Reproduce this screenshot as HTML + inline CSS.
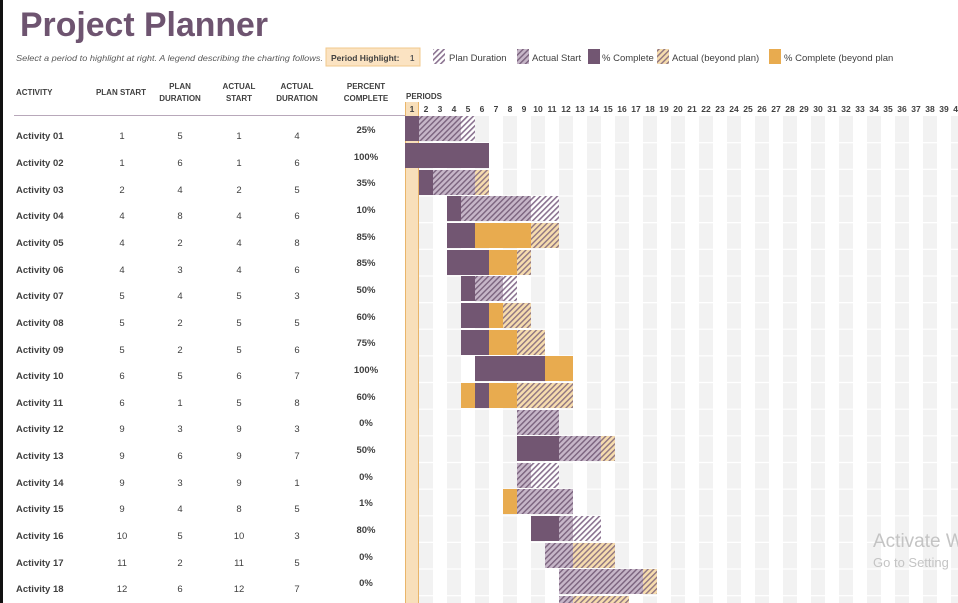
<!DOCTYPE html>
<html><head><meta charset="utf-8"><style>
html,body{margin:0;padding:0;background:#fff;width:958px;height:603px;overflow:hidden}
svg{display:block;font-family:"Liberation Sans",sans-serif}
</style></head><body>
<svg width="958" height="603" viewBox="0 0 958 603" xmlns="http://www.w3.org/2000/svg">
<defs>
<pattern id="cols" x="405" y="0" width="28" height="603" patternUnits="userSpaceOnUse">
<rect x="0" y="0" width="14" height="603" fill="#fff"/><rect x="14" y="0" width="14" height="603" fill="#f2f2f2"/>
</pattern>
<pattern id="hP" width="4" height="4" patternUnits="userSpaceOnUse" patternTransform="rotate(45)">
<rect width="4" height="4" fill="#fff"/><rect width="1.6" height="4" fill="#8a7290"/></pattern>
<pattern id="hA" width="4" height="4" patternUnits="userSpaceOnUse" patternTransform="rotate(45)">
<rect width="4" height="4" fill="#c6b6c8"/><rect width="1.4" height="4" fill="#7a627d"/></pattern>
<pattern id="hB" width="4" height="4" patternUnits="userSpaceOnUse" patternTransform="rotate(45)">
<rect width="4" height="4" fill="#f6dcae"/><rect width="1.4" height="4" fill="#8e7480"/></pattern>
</defs>
<rect x="0" y="0" width="3" height="603" fill="#111"/>
<text x="20" y="36" font-size="34" font-weight="bold" fill="#6e5470" textLength="248" lengthAdjust="spacingAndGlyphs">Project Planner</text>
<text x="16" y="61" font-size="8.5" font-style="italic" fill="#595959" textLength="307" lengthAdjust="spacingAndGlyphs">Select a period to highlight at right.  A legend describing the charting follows.</text>
<rect x="326" y="48" width="94" height="18" fill="#fbe3c2" stroke="#f1c88c" stroke-width="1"/>
<text x="331" y="61" font-size="8.5" font-weight="bold" fill="#404040">Period Highlight:</text>
<text x="410" y="61" font-size="8" font-weight="bold" fill="#595959">1</text>
<rect x="433" y="49" width="12" height="15" fill="url(#hP)"/><text x="449" y="61" font-size="9.5" fill="#404040">Plan Duration</text>
<rect x="517" y="49" width="12" height="15" fill="url(#hA)"/><text x="532" y="61" font-size="9.5" fill="#404040">Actual Start</text>
<rect x="588" y="49" width="12" height="15" fill="#725672"/><text x="602" y="61" font-size="9.5" fill="#404040">% Complete</text>
<rect x="657" y="49" width="12" height="15" fill="url(#hB)"/><text x="672" y="61" font-size="9.5" fill="#404040">Actual (beyond plan)</text>
<rect x="769" y="49" width="12" height="15" fill="#e8ab4f"/><text x="784" y="61" font-size="9.5" fill="#404040">% Complete (beyond plan</text>
<g font-size="8" font-weight="bold" fill="#404040" text-anchor="middle">
<text x="16" y="95" text-anchor="start">ACTIVITY</text>
<text x="121" y="95">PLAN START</text>
<text x="180" y="89">PLAN</text><text x="180" y="101">DURATION</text>
<text x="239" y="89">ACTUAL</text><text x="239" y="101">START</text>
<text x="297" y="89">ACTUAL</text><text x="297" y="101">DURATION</text>
<text x="366" y="89">PERCENT</text><text x="366" y="101">COMPLETE</text>
<text x="406" y="99" text-anchor="start">PERIODS</text>
</g>
<line x1="14" y1="115.5" x2="405" y2="115.5" stroke="#b8a8ba" stroke-width="1"/>
<rect x="405" y="116" width="553" height="487" fill="url(#cols)"/>
<g stroke="#fff" stroke-width="1.2">
<line x1="405" x2="958" y1="142.7" y2="142.7"/><line x1="405" x2="958" y1="169.3" y2="169.3"/><line x1="405" x2="958" y1="196" y2="196"/><line x1="405" x2="958" y1="222.6" y2="222.6"/><line x1="405" x2="958" y1="249.3" y2="249.3"/><line x1="405" x2="958" y1="276" y2="276"/><line x1="405" x2="958" y1="302.6" y2="302.6"/><line x1="405" x2="958" y1="329.2" y2="329.2"/><line x1="405" x2="958" y1="355.9" y2="355.9"/><line x1="405" x2="958" y1="382.5" y2="382.5"/><line x1="405" x2="958" y1="409.2" y2="409.2"/><line x1="405" x2="958" y1="435.8" y2="435.8"/><line x1="405" x2="958" y1="462.5" y2="462.5"/><line x1="405" x2="958" y1="489.1" y2="489.1"/><line x1="405" x2="958" y1="515.8" y2="515.8"/><line x1="405" x2="958" y1="542.4" y2="542.4"/><line x1="405" x2="958" y1="569" y2="569"/><line x1="405" x2="958" y1="595.7" y2="595.7"/>
</g>
<rect x="405" y="102" width="14" height="501" fill="#f8dfba"/>
<line x1="405.5" y1="102" x2="405.5" y2="603" stroke="#e9b56a"/><line x1="418.5" y1="102" x2="418.5" y2="603" stroke="#e9b56a"/>
<g font-size="8.5" font-weight="bold" fill="#404040" text-anchor="middle">
<text x="412" y="112">1</text><text x="426" y="112">2</text><text x="440" y="112">3</text><text x="454" y="112">4</text><text x="468" y="112">5</text><text x="482" y="112">6</text><text x="496" y="112">7</text><text x="510" y="112">8</text><text x="524" y="112">9</text><text x="538" y="112">10</text><text x="552" y="112">11</text><text x="566" y="112">12</text><text x="580" y="112">13</text><text x="594" y="112">14</text><text x="608" y="112">15</text><text x="622" y="112">16</text><text x="636" y="112">17</text><text x="650" y="112">18</text><text x="664" y="112">19</text><text x="678" y="112">20</text><text x="692" y="112">21</text><text x="706" y="112">22</text><text x="720" y="112">23</text><text x="734" y="112">24</text><text x="748" y="112">25</text><text x="762" y="112">26</text><text x="776" y="112">27</text><text x="790" y="112">28</text><text x="804" y="112">29</text><text x="818" y="112">30</text><text x="832" y="112">31</text><text x="846" y="112">32</text><text x="860" y="112">33</text><text x="874" y="112">34</text><text x="888" y="112">35</text><text x="902" y="112">36</text><text x="916" y="112">37</text><text x="930" y="112">38</text><text x="944" y="112">39</text><text x="958" y="112">40</text>
</g>
<!-- bars -->
<g>
<rect x="405" y="116" width="14" height="25" fill="#725672"/><rect x="419" y="116" width="42" height="25" fill="url(#hA)"/><rect x="461" y="116" width="14" height="25" fill="url(#hP)"/>
<rect x="405" y="143" width="84" height="25" fill="#725672"/>
<rect x="419" y="170" width="14" height="25" fill="#725672"/><rect x="433" y="170" width="42" height="25" fill="url(#hA)"/><rect x="475" y="170" width="14" height="25" fill="url(#hB)"/>
<rect x="447" y="196" width="14" height="25" fill="#725672"/><rect x="461" y="196" width="70" height="25" fill="url(#hA)"/><rect x="531" y="196" width="28" height="25" fill="url(#hP)"/>
<rect x="447" y="223" width="28" height="25" fill="#725672"/><rect x="475" y="223" width="56" height="25" fill="#e8ab4f"/><rect x="531" y="223" width="28" height="25" fill="url(#hB)"/>
<rect x="447" y="250" width="42" height="25" fill="#725672"/><rect x="489" y="250" width="28" height="25" fill="#e8ab4f"/><rect x="517" y="250" width="14" height="25" fill="url(#hB)"/>
<rect x="461" y="276" width="14" height="25" fill="#725672"/><rect x="475" y="276" width="28" height="25" fill="url(#hA)"/><rect x="503" y="276" width="14" height="25" fill="url(#hP)"/>
<rect x="461" y="303" width="28" height="25" fill="#725672"/><rect x="489" y="303" width="14" height="25" fill="#e8ab4f"/><rect x="503" y="303" width="28" height="25" fill="url(#hB)"/>
<rect x="461" y="330" width="28" height="25" fill="#725672"/><rect x="489" y="330" width="28" height="25" fill="#e8ab4f"/><rect x="517" y="330" width="28" height="25" fill="url(#hB)"/>
<rect x="475" y="356" width="70" height="25" fill="#725672"/><rect x="545" y="356" width="28" height="25" fill="#e8ab4f"/>
<rect x="461" y="383" width="14" height="25" fill="#e8ab4f"/><rect x="475" y="383" width="14" height="25" fill="#725672"/><rect x="489" y="383" width="28" height="25" fill="#e8ab4f"/><rect x="517" y="383" width="56" height="25" fill="url(#hB)"/>
<rect x="517" y="410" width="42" height="25" fill="url(#hA)"/>
<rect x="517" y="436" width="42" height="25" fill="#725672"/><rect x="559" y="436" width="42" height="25" fill="url(#hA)"/><rect x="601" y="436" width="14" height="25" fill="url(#hB)"/>
<rect x="517" y="463" width="14" height="25" fill="url(#hA)"/><rect x="531" y="463" width="28" height="25" fill="url(#hP)"/>
<rect x="503" y="489" width="14" height="25" fill="#e8ab4f"/><rect x="517" y="489" width="56" height="25" fill="url(#hA)"/>
<rect x="531" y="516" width="28" height="25" fill="#725672"/><rect x="559" y="516" width="14" height="25" fill="url(#hA)"/><rect x="573" y="516" width="28" height="25" fill="url(#hP)"/>
<rect x="545" y="543" width="28" height="25" fill="url(#hA)"/><rect x="573" y="543" width="42" height="25" fill="url(#hB)"/>
<rect x="559" y="569" width="84" height="25" fill="url(#hA)"/><rect x="643" y="569" width="14" height="25" fill="url(#hB)"/>
<rect x="559" y="596" width="14" height="10" fill="url(#hA)"/><rect x="573" y="596" width="56" height="10" fill="url(#hB)"/>
</g>
<!-- table rows -->
<g font-size="9.5" fill="#404040">
<g font-weight="bold"><text x="16" y="139">Activity 01</text><text x="16" y="166">Activity 02</text><text x="16" y="193">Activity 03</text><text x="16" y="219">Activity 04</text><text x="16" y="246">Activity 05</text><text x="16" y="273">Activity 06</text><text x="16" y="299">Activity 07</text><text x="16" y="326">Activity 08</text><text x="16" y="353">Activity 09</text><text x="16" y="379">Activity 10</text><text x="16" y="406">Activity 11</text><text x="16" y="432">Activity 12</text><text x="16" y="459">Activity 13</text><text x="16" y="486">Activity 14</text><text x="16" y="512">Activity 15</text><text x="16" y="539">Activity 16</text><text x="16" y="566">Activity 17</text><text x="16" y="592">Activity 18</text></g>
<g text-anchor="middle">
<text x="122" y="139">1</text><text x="180" y="139">5</text><text x="239" y="139">1</text><text x="297" y="139">4</text>
<text x="122" y="166">1</text><text x="180" y="166">6</text><text x="239" y="166">1</text><text x="297" y="166">6</text>
<text x="122" y="193">2</text><text x="180" y="193">4</text><text x="239" y="193">2</text><text x="297" y="193">5</text>
<text x="122" y="219">4</text><text x="180" y="219">8</text><text x="239" y="219">4</text><text x="297" y="219">6</text>
<text x="122" y="246">4</text><text x="180" y="246">2</text><text x="239" y="246">4</text><text x="297" y="246">8</text>
<text x="122" y="273">4</text><text x="180" y="273">3</text><text x="239" y="273">4</text><text x="297" y="273">6</text>
<text x="122" y="299">5</text><text x="180" y="299">4</text><text x="239" y="299">5</text><text x="297" y="299">3</text>
<text x="122" y="326">5</text><text x="180" y="326">2</text><text x="239" y="326">5</text><text x="297" y="326">5</text>
<text x="122" y="353">5</text><text x="180" y="353">2</text><text x="239" y="353">5</text><text x="297" y="353">6</text>
<text x="122" y="379">6</text><text x="180" y="379">5</text><text x="239" y="379">6</text><text x="297" y="379">7</text>
<text x="122" y="406">6</text><text x="180" y="406">1</text><text x="239" y="406">5</text><text x="297" y="406">8</text>
<text x="122" y="432">9</text><text x="180" y="432">3</text><text x="239" y="432">9</text><text x="297" y="432">3</text>
<text x="122" y="459">9</text><text x="180" y="459">6</text><text x="239" y="459">9</text><text x="297" y="459">7</text>
<text x="122" y="486">9</text><text x="180" y="486">3</text><text x="239" y="486">9</text><text x="297" y="486">1</text>
<text x="122" y="512">9</text><text x="180" y="512">4</text><text x="239" y="512">8</text><text x="297" y="512">5</text>
<text x="122" y="539">10</text><text x="180" y="539">5</text><text x="239" y="539">10</text><text x="297" y="539">3</text>
<text x="122" y="566">11</text><text x="180" y="566">2</text><text x="239" y="566">11</text><text x="297" y="566">5</text>
<text x="122" y="592">12</text><text x="180" y="592">6</text><text x="239" y="592">12</text><text x="297" y="592">7</text>
</g>
<g text-anchor="middle" font-weight="bold">
<text x="366" y="133">25%</text><text x="366" y="160">100%</text><text x="366" y="186">35%</text><text x="366" y="213">10%</text><text x="366" y="240">85%</text><text x="366" y="266">85%</text><text x="366" y="293">50%</text><text x="366" y="320">60%</text><text x="366" y="346">75%</text><text x="366" y="373">100%</text><text x="366" y="400">60%</text><text x="366" y="426">0%</text><text x="366" y="453">50%</text><text x="366" y="480">0%</text><text x="366" y="506">1%</text><text x="366" y="533">80%</text><text x="366" y="560">0%</text><text x="366" y="586">0%</text>
</g>
</g>
<text x="873" y="547" font-size="19" fill="#c4c4c4">Activate W</text>
<text x="873" y="567" font-size="13" fill="#c4c4c4">Go to Setting</text>
</svg>
</body></html>
